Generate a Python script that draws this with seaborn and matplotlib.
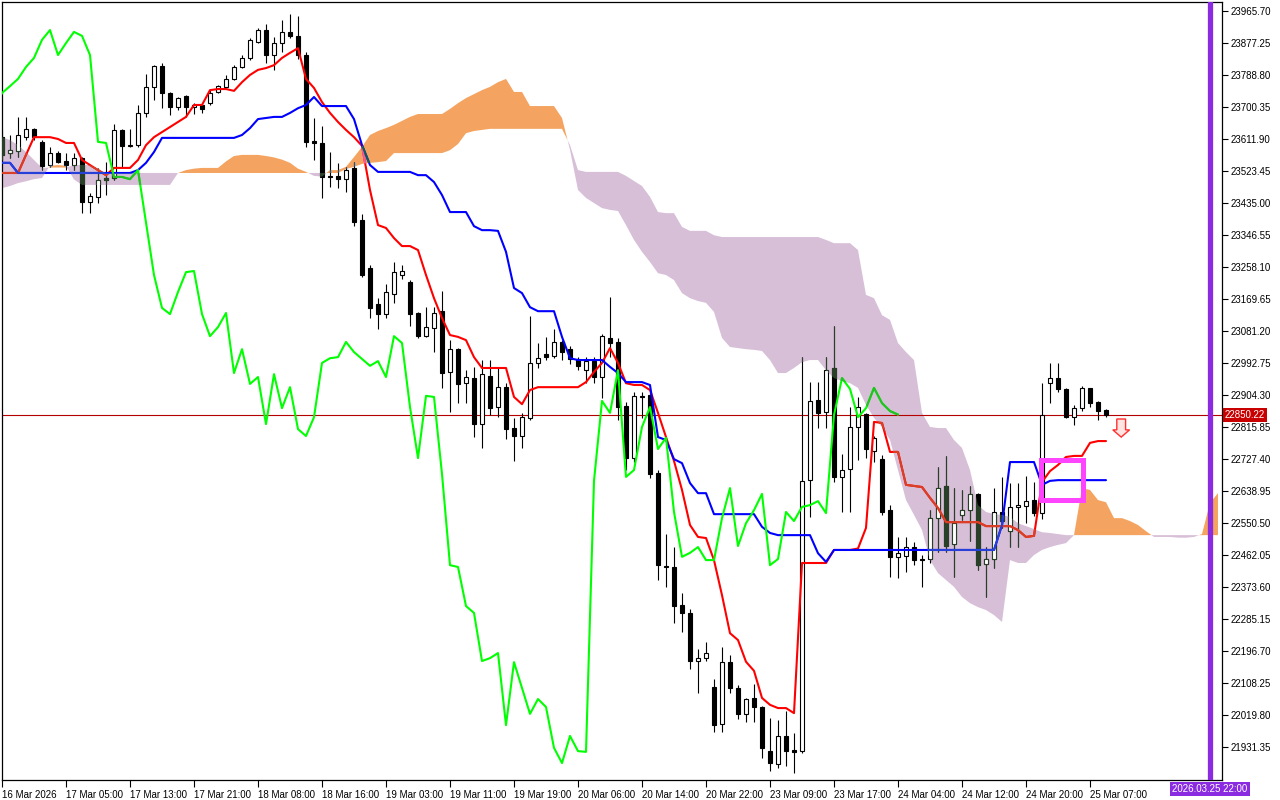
import numpy as np
import matplotlib
matplotlib.use("Agg")
import matplotlib.pyplot as plt
from matplotlib import patches
from matplotlib.path import Path
import seaborn as sns

# --- Data: hourly bars (index 0 = first visible bar) ---
OPEN = [23617, 23573, 23579, 23617, 23640, 23604, 23540, 23573, 23551, 23540,
        23559, 23438, 23452, 23504, 23504, 23637, 23593, 23595, 23684, 23756,
        23814, 23739, 23700, 23731, 23700, 23705, 23711, 23742, 23756, 23778,
        23811, 23836, 23880, 23913, 23844, 23877, 23908, 23897, 23844, 23606,
        23601, 23510, 23510, 23501, 23532, 23388, 23255, 23156, 23128, 23183,
        23236, 23217, 23131, 23067, 23090, 23136, 22968, 23031, 22937, 22951,
        22824, 22957, 22871, 22926, 22813, 22791, 22841, 22993, 23017, 23012,
        23051, 23031, 23004, 22973, 22998, 22954, 23062, 23051, 22874, 22730,
        22902, 22904, 22689, 22432, 22429, 22324, 22302, 22169, 22177, 22097,
        21995, 22166, 22094, 22023, 22067, 22042, 21920, 21884, 21962, 21923,
        21920, 22669, 22891, 22857, 22979, 22678, 22700, 22816, 22852, 22750,
        22727, 22586, 22457, 22459, 22484, 22451, 22451, 22564, 22653, 22492,
        22573, 22586, 22631, 22437, 22451, 22581, 22528, 22595, 22597, 22614,
        22578, 22937, 22951, 22921, 22843, 22868, 22924, 22885, 22863]
HIGH = [23637, 23623, 23673, 23673, 23642, 23609, 23590, 23579, 23573, 23573,
        23562, 23463, 23532, 23548, 23653, 23640, 23640, 23706, 23792, 23816,
        23822, 23742, 23728, 23734, 23712, 23709, 23747, 23761, 23789, 23816,
        23844, 23891, 23919, 23930, 23894, 23941, 23957, 23952, 23852, 23670,
        23648, 23576, 23546, 23535, 23548, 23404, 23264, 23172, 23211, 23272,
        23264, 23222, 23134, 23147, 23147, 23192, 23056, 23034, 22973, 22982,
        23001, 23001, 22982, 22937, 22841, 22854, 23123, 23048, 23065, 23087,
        23056, 23040, 23009, 23009, 23009, 23073, 23175, 23062, 22885, 22913,
        22913, 22913, 22697, 22520, 22484, 22357, 22313, 22202, 22222, 22119,
        22208, 22186, 22103, 22067, 22105, 22045, 22012, 22006, 22031, 21970,
        23009, 22940, 22940, 23009, 23095, 22741, 22871, 22899, 22855, 22791,
        22738, 22600, 22512, 22512, 22498, 22462, 22586, 22705, 22736, 22647,
        22642, 22653, 22633, 22484, 22647, 22678, 22661, 22661, 22680, 22664,
        22937, 22993, 22993, 22924, 22877, 22929, 22924, 22888, 22866]
LOW = [23554, 23559, 23562, 23609, 23609, 23526, 23535, 23545, 23526, 23526,
       23407, 23407, 23435, 23457, 23499, 23535, 23590, 23590, 23673, 23720,
       23698, 23678, 23692, 23673, 23680, 23684, 23706, 23739, 23753, 23775,
       23808, 23830, 23877, 23822, 23803, 23852, 23891, 23833, 23590, 23554,
       23449, 23479, 23476, 23465, 23371, 23230, 23117, 23087, 23117, 23159,
       23225, 23095, 23062, 23065, 23023, 22924, 22857, 22882, 22882, 22788,
       22758, 22849, 22844, 22783, 22722, 22758, 22835, 22979, 23001, 23006,
       23001, 22990, 22973, 22937, 22937, 22896, 23009, 22835, 22697, 22719,
       22841, 22675, 22393, 22374, 22274, 22249, 22147, 22081, 22169, 21973,
       21973, 22081, 22009, 22001, 22001, 21901, 21865, 21873, 21879, 21860,
       21915, 22567, 22813, 22813, 22664, 22581, 22581, 22725, 22730, 22719,
       22573, 22401, 22398, 22415, 22434, 22374, 22440, 22470, 22470, 22401,
       22559, 22501, 22421, 22346, 22426, 22537, 22484, 22484, 22550, 22570,
       22561, 22882, 22913, 22841, 22821, 22860, 22871, 22835, 22844]
CLOSE = [23568, 23581, 23623, 23640, 23617, 23537, 23573, 23548, 23540, 23559,
         23438, 23454, 23499, 23499, 23637, 23593, 23595, 23684, 23756, 23814,
         23739, 23700, 23725, 23700, 23705, 23695, 23739, 23758, 23778, 23811,
         23836, 23886, 23913, 23844, 23877, 23908, 23897, 23844, 23604, 23601,
         23507, 23507, 23501, 23526, 23382, 23236, 23145, 23128, 23189, 23244,
         23247, 23128, 23067, 23092, 23131, 22965, 23031, 22935, 22954, 22824,
         22962, 22868, 22926, 22810, 22791, 22843, 22993, 23006, 23009, 23051,
         23023, 23004, 22985, 22998, 22954, 23067, 23048, 22871, 22730, 22902,
         22899, 22686, 22434, 22429, 22321, 22302, 22169, 22177, 22191, 21992,
         22166, 22094, 22023, 22064, 22042, 21929, 21887, 21962, 21920, 21918,
         22667, 22888, 22855, 22973, 22678, 22697, 22816, 22871, 22755, 22786,
         22581, 22457, 22468, 22484, 22448, 22448, 22564, 22647, 22487, 22550,
         22586, 22631, 22434, 22451, 22581, 22556, 22595, 22600, 22611, 22578,
         22849, 22951, 22921, 22843, 22868, 22924, 22882, 22860, 22850.22]

# Ichimoku lines as drawn on the chart
TENKAN = [23518, 23518, 23518, 23568, 23617, 23617, 23617, 23612, 23601, 23601,
          23554, 23540, 23526, 23512, 23532, 23532, 23532, 23554, 23595, 23617,
          23631, 23645, 23659, 23673, 23706, 23706, 23747, 23750, 23750, 23745,
          23769, 23789, 23803, 23808, 23816, 23836, 23850, 23863, 23778, 23753,
          23714, 23684, 23659, 23637, 23617, 23593, 23471, 23374, 23366, 23338,
          23316, 23316, 23305, 23236, 23172, 23117, 23070, 23065, 23056, 23009,
          22979, 22979, 22979, 22979, 22899, 22879, 22918, 22926, 22926, 22926,
          22926, 22926, 22926, 22940, 22968, 22993, 23034, 22993, 22937, 22932,
          22932, 22918, 22855, 22788, 22722, 22642, 22545, 22512, 22509, 22448,
          22351, 22246, 22227, 22167, 22142, 22067, 22048, 22039, 22039, 22025,
          22440, 22440, 22440, 22440, 22476, 22476, 22476, 22480, 22537, 22830,
          22827, 22747, 22747, 22656, 22653, 22650, 22620, 22592, 22553, 22553,
          22553, 22553, 22553, 22542, 22542, 22542, 22542, 22531, 22512, 22515,
          22664, 22694, 22711, 22733, 22736, 22736, 22772, 22777, 22777]
KIJUN = [23546, 23546, 23518, 23518, 23518, 23518, 23518, 23518, 23518, 23518,
         23518, 23518, 23518, 23518, 23518, 23518, 23518, 23526, 23546, 23576,
         23615, 23615, 23615, 23615, 23615, 23615, 23615, 23615, 23615, 23615,
         23623, 23642, 23667, 23670, 23673, 23673, 23684, 23697, 23706, 23728,
         23703, 23703, 23703, 23703, 23667, 23595, 23540, 23521, 23521, 23521,
         23521, 23521, 23512, 23512, 23493, 23457, 23410, 23410, 23410, 23371,
         23360, 23360, 23358, 23300, 23200, 23186, 23147, 23136, 23136, 23136,
         23065, 23006, 23001, 23001, 23001, 23001, 22982, 22965, 22940, 22940,
         22940, 22932, 22788, 22780, 22727, 22716, 22661, 22633, 22633, 22575,
         22575, 22575, 22575, 22575, 22575, 22540, 22523, 22517, 22517, 22517,
         22517, 22517, 22467, 22443, 22476, 22476, 22476, 22476, 22476, 22476,
         22476, 22476, 22476, 22476, 22476, 22476, 22476, 22476, 22476, 22476,
         22476, 22476, 22476, 22476, 22476, 22545, 22719, 22719, 22719, 22719,
         22656, 22667, 22669, 22669, 22669, 22669, 22669, 22669, 22669]
SPAN_A = [23476, 23482, 23490, 23495, 23501, 23504, 23538, 23540, 23538, 23500,
          23485, 23485, 23485, 23485, 23485, 23485, 23485, 23485, 23485, 23485,
          23485, 23485, 23518, 23526, 23530, 23532, 23532, 23532, 23550, 23565,
          23568, 23568, 23568, 23565, 23561, 23555, 23546, 23530, 23521, 23510,
          23508, 23526, 23526, 23535, 23562, 23590, 23623, 23634, 23642, 23651,
          23662, 23673, 23681, 23681, 23681, 23681, 23695, 23711, 23725, 23736,
          23747, 23756, 23769, 23778, 23742, 23742, 23703, 23703, 23703, 23703,
          23670, 23582, 23471, 23449, 23435, 23421, 23416, 23413, 23374, 23333,
          23300, 23272, 23241, 23236, 23222, 23186, 23172, 23164, 23159, 23134,
          23062, 23037, 23034, 23031, 23029, 23026, 23001, 22965, 22965, 22979,
          22995, 23001, 23001, 22973, 22951, 22943, 22937, 22924, 22877, 22841,
          22816, 22780, 22697, 22614, 22573, 22531, 22448, 22412, 22393, 22374,
          22346, 22329, 22318, 22310, 22296, 22277, 22448, 22440, 22440, 22462,
          22476, 22484, 22490, 22495, 22517, 22647, 22642, 22614, 22608, 22564,
          22564, 22556, 22545, 22528, 22512, 22512, 22512, 22510, 22510, 22512,
          22520, 22606, 22633]
SPAN_B = [23617, 23609, 23595, 23576, 23554, 23532, 23533, 23533, 23533, 23540,
          23540, 23540, 23530, 23518, 23518, 23518, 23518, 23518, 23518, 23518,
          23518, 23518, 23518, 23518, 23518, 23518, 23518, 23518, 23518, 23518,
          23518, 23518, 23518, 23518, 23518, 23518, 23518, 23518, 23518, 23518,
          23518, 23518, 23518, 23529, 23535, 23543, 23546, 23548, 23551, 23573,
          23573, 23573, 23573, 23573, 23573, 23573, 23581, 23598, 23628, 23634,
          23637, 23640, 23640, 23640, 23640, 23640, 23640, 23640, 23640, 23640,
          23640, 23595, 23526, 23521, 23521, 23521, 23521, 23521, 23510, 23496,
          23482, 23452, 23410, 23407, 23407, 23369, 23358, 23358, 23358, 23346,
          23341, 23341, 23341, 23341, 23341, 23341, 23341, 23341, 23341, 23341,
          23341, 23341, 23341, 23333, 23324, 23324, 23324, 23305, 23181, 23172,
          23125, 23112, 23048, 23023, 23001, 22855, 22816, 22813, 22813, 22780,
          22758, 22697, 22600, 22581, 22575, 22573, 22567, 22550, 22542, 22534,
          22525, 22523, 22520, 22517, 22517, 22517, 22517, 22517, 22517, 22517,
          22517, 22517, 22517, 22517, 22517, 22517, 22517, 22517, 22517, 22517,
          22517, 22517, 22517]
CHIKOU_SHIFT = 26

TIME_TICK_BARS = [0, 8, 16, 24, 32, 40, 48, 56, 64, 72, 80, 88, 96, 104, 112, 120, 128, 136]
TIME_TICK_LABELS = ["16 Mar 2026", "17 Mar 05:00", "17 Mar 13:00", "17 Mar 21:00",
                    "18 Mar 08:00", "18 Mar 16:00", "19 Mar 03:00", "19 Mar 11:00",
                    "19 Mar 19:00", "20 Mar 06:00", "20 Mar 14:00", "20 Mar 22:00",
                    "23 Mar 09:00", "23 Mar 17:00", "24 Mar 04:00", "24 Mar 12:00",
                    "24 Mar 20:00", "25 Mar 07:00"]
PRICE_TICKS = [21931.35, 22019.80, 22108.25, 22196.70, 22285.15, 22373.60, 22462.05,
               22550.50, 22638.95, 22727.40, 22815.85, 22904.30, 22992.75, 23081.20,
               23169.65, 23258.10, 23346.55, 23435.00, 23523.45, 23611.90, 23700.35,
               23788.80, 23877.25, 23965.70]

LAST_PRICE = 22850.22
VLINE_BAR = 151
VLINE_LABEL = "2026.03.25 22:00"
# magenta box and sell arrow drawn on the chart
BOX_LEFT, BOX_RIGHT = 129.9, 135.1
BOX_LOW, BOX_HIGH = 22614, 22725
ARROW_BAR, ARROW_TOP, ARROW_TIP = 139.9, 22838, 22788

# colours (terminal defaults)
UP_CLOUD = '#F4A460'
DOWN_CLOUD = '#D8BFD8'
FG = '#000000'
TENKAN_C, KIJUN_C, CHIKOU_C = '#FF0000', '#0000FF', '#00FF00'


def xor_on(color, cloud):
    # the terminal paints the cloud in XOR mode, so marks inside it change colour
    a = [int(color[i:i + 2], 16) for i in (1, 3, 5)]
    b = [int(cloud[i:i + 2], 16) for i in (1, 3, 5)]
    return '#%02X%02X%02X' % tuple(x ^ (255 - y) for x, y in zip(a, b))


# --- Style ---
sns.set_theme(style="ticks")
plt.rcParams['font.family'] = ['Liberation Sans', 'DejaVu Sans']
plt.rcParams['axes.edgecolor'] = 'black'

fig = plt.figure(figsize=(12.8, 8), dpi=100)
ax = fig.add_axes([2 / 1280, 20 / 800, 1220 / 1280, 778 / 800])
ax.set_facecolor('white')

# Cloud
span_a = np.array(SPAN_A, dtype=float)
span_b = np.array(SPAN_B, dtype=float)
cloud_x = np.arange(len(span_a))
up_poly = ax.fill_between(cloud_x, span_a, span_b, where=span_a >= span_b,
                          interpolate=True, color=UP_CLOUD, lw=0, zorder=1)
dn_poly = ax.fill_between(cloud_x, span_a, span_b, where=span_a < span_b,
                          interpolate=True, color=DOWN_CLOUD, lw=0, zorder=1)
clouds = [(UP_CLOUD, Path.make_compound_path(*up_poly.get_paths())),
          (DOWN_CLOUD, Path.make_compound_path(*dn_poly.get_paths()))]

ax.axhline(LAST_PRICE, color='#B40000', lw=0.8, zorder=2)

# Candles
o = np.array(OPEN, dtype=float)
h = np.array(HIGH, dtype=float)
l = np.array(LOW, dtype=float)
c = np.array(CLOSE, dtype=float)
bars = np.arange(len(c))
up = c >= o
body_low = np.minimum(o, c)
body_h = np.maximum(np.abs(c - o), 2.5)


def draw_candles(edge, clip=None, z=0.0):
    wick = ax.vlines(bars, l, h, color=edge, lw=0.8, zorder=3 + z)
    ups = ax.bar(bars[up], body_h[up], bottom=body_low[up], width=0.62, color='white',
                 edgecolor=edge, linewidth=0.8, zorder=4 + z)
    dns = ax.bar(bars[~up], body_h[~up], bottom=body_low[~up], width=0.62, color=edge,
                 edgecolor=edge, linewidth=0.8, zorder=4 + z)
    if clip is not None:
        wick.set_clip_path(clip, ax.transData)
        for p in list(ups) + list(dns):
            p.set_clip_path(clip, ax.transData)


def draw_line(x, y, color, clip=None, z=0.0):
    sns.lineplot(x=x, y=y, color=color, lw=1.5, ax=ax, zorder=5 + z, legend=False)
    if clip is not None:
        ax.lines[-1].set_clip_path(clip, ax.transData)


draw_candles(FG)
for cloud_color, path in clouds:
    draw_candles(xor_on(FG, cloud_color), clip=path, z=0.05)

# Ichimoku lines
line_specs = [(bars, TENKAN, TENKAN_C), (bars, KIJUN, KIJUN_C),
              (bars - CHIKOU_SHIFT, CLOSE, CHIKOU_C)]
for x, y, col in line_specs:
    draw_line(x, y, col)
    for cloud_color, path in clouds:
        draw_line(x, y, xor_on(col, cloud_color), clip=path, z=0.05)

# Vertical time line
ax.axvline(VLINE_BAR, color='#8A2BE2', lw=3.8, zorder=6)

# Objects
ax.add_patch(patches.Rectangle((BOX_LEFT, BOX_LOW), BOX_RIGHT - BOX_LEFT, BOX_HIGH - BOX_LOW,
                               fill=False, edgecolor='#FF44FF', lw=3.6, zorder=7))
ax.add_patch(patches.FancyArrow(ARROW_BAR, ARROW_TOP, 0, ARROW_TIP - ARROW_TOP,
                                width=1.1, head_width=2.1, head_length=20,
                                length_includes_head=True, facecolor='#FFE4E1',
                                edgecolor='#FF3030', lw=1, zorder=7))

# Axes
ax.set_xlim(0, 152.5)
ax.set_ylim(21840.2, 23990.6)
ax.grid(False)
for sp in ax.spines.values():
    sp.set_visible(True)
    sp.set_color('black')
    sp.set_linewidth(0.9)

ax.yaxis.tick_right()
ax.set_yticks(PRICE_TICKS)
ax.set_yticklabels([f"{p:.2f}" for p in PRICE_TICKS])
ax.set_xticks(TIME_TICK_BARS)
ax.set_xticklabels(TIME_TICK_LABELS)
for lbl in ax.get_xticklabels():
    lbl.set_horizontalalignment('left')
ax.tick_params(axis='y', which='both', direction='out', length=4, width=0.8,
               pad=2, labelsize=7, colors='black', left=False, right=True)
ax.tick_params(axis='x', which='both', direction='out', length=5, width=0.8,
               pad=2, labelsize=7, colors='black')
ax.set_xlabel('')
ax.set_ylabel('')

# Price and time labels
ax.annotate(f"{LAST_PRICE:.2f}", xy=(1, LAST_PRICE), xycoords=('axes fraction', 'data'),
            xytext=(2, 0), textcoords='offset points', ha='left', va='center',
            color='white', fontsize=7, annotation_clip=False,
            bbox=dict(boxstyle='square,pad=0.2', fc='#C80000', ec='none'))
ax.annotate(VLINE_LABEL, xy=(VLINE_BAR, 0), xycoords=('data', 'axes fraction'),
            xytext=(0, -3), textcoords='offset points', ha='center', va='top',
            color='white', fontsize=7, annotation_clip=False,
            bbox=dict(boxstyle='square,pad=0.2', fc='#8A2BE2', ec='none'))

fig.savefig('out.png', dpi=100)
